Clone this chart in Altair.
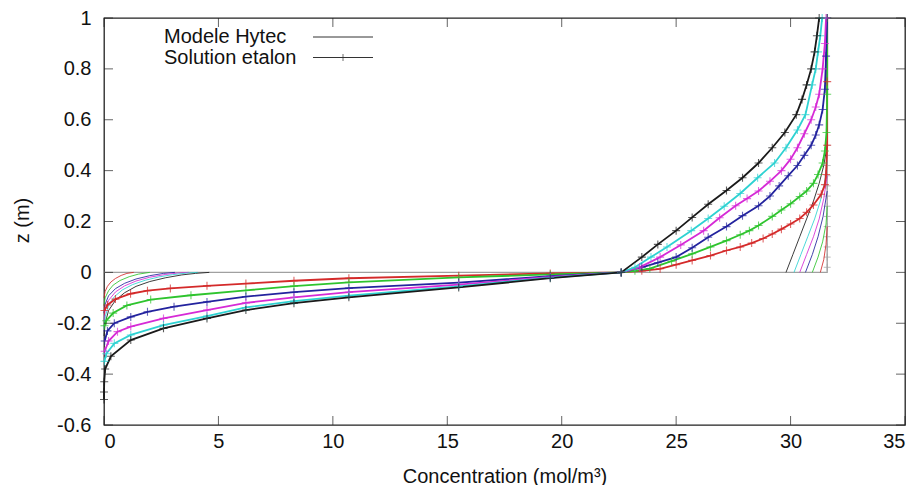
import altair as alt
import pandas as pd

# ---------------- data ----------------
x_ticks = [0, 5, 10, 15, 20, 25, 30, 35]
z_ticks = [-0.6, -0.4, -0.2, 0, 0.2, 0.4, 0.6, 0.8, 1]

names = ["red", "green", "blue", "magenta", "cyan", "black"]
colors = ["#d42a2a", "#2ec42e", "#23239e", "#d62ad6", "#2ed2d2", "#1a1a1a"]

# Solution etalon, z > 0 branch (concentration, depth)
red_up_c = [22.6, 23.5, 24.3, 25.0, 25.7, 26.5, 27.2, 27.8, 28.3, 28.8, 29.2, 29.6, 30.0, 30.4, 30.7, 31.0, 31.34, 31.5, 31.55, 31.6, 31.6, 31.6]
red_up_z = [0.0, 0.006, 0.014, 0.030, 0.047, 0.066, 0.086, 0.100, 0.115, 0.133, 0.151, 0.170, 0.190, 0.212, 0.236, 0.265, 0.307, 0.345, 0.385, 0.5, 0.75, 1.0]
green_up_c = [22.6, 23.2, 23.85, 24.8, 25.7, 26.5, 27.2, 27.8, 28.2, 28.6, 29.2, 29.6, 30.0, 30.4, 30.7, 31.0, 31.2, 31.4, 31.5, 31.57, 31.6, 31.6]
green_up_z = [0.0, 0.006, 0.015, 0.044, 0.073, 0.100, 0.125, 0.148, 0.164, 0.184, 0.220, 0.245, 0.270, 0.298, 0.320, 0.350, 0.385, 0.430, 0.477, 0.55, 0.7, 1.0]
blue_up_c = [22.6, 23.5, 24.2, 25.0, 25.7, 26.4, 27.2, 27.9, 28.6, 29.1, 29.5, 29.9, 30.3, 30.6, 30.9, 31.1, 31.25, 31.4, 31.5, 31.55, 31.6]
blue_up_z = [0.0, 0.02, 0.038, 0.060, 0.097, 0.138, 0.180, 0.223, 0.262, 0.300, 0.340, 0.380, 0.420, 0.460, 0.500, 0.540, 0.580, 0.640, 0.720, 0.850, 1.0]
magenta_up_c = [22.6, 23.4, 24.3, 25.2, 26.2, 26.9, 27.6, 28.1, 28.6, 29.1, 29.6, 30.0, 30.3, 30.6, 30.9, 31.1, 31.25, 31.4, 31.5, 31.55]
magenta_up_z = [0.0, 0.02, 0.06, 0.108, 0.164, 0.215, 0.262, 0.290, 0.320, 0.358, 0.400, 0.445, 0.490, 0.545, 0.600, 0.650, 0.700, 0.800, 0.900, 1.0]
cyan_up_c = [22.6, 23.2, 23.9, 24.6, 25.66, 26.4, 27.1, 27.8, 28.56, 29.3, 29.8, 30.3, 30.65, 30.94, 31.1, 31.2, 31.3, 31.38]
cyan_up_z = [0.0, 0.02, 0.06, 0.10, 0.164, 0.212, 0.260, 0.310, 0.372, 0.430, 0.490, 0.560, 0.620, 0.737, 0.800, 0.867, 0.930, 1.0]
black_up_c = [22.6, 23.5, 24.2, 25.0, 25.7, 26.4, 27.2, 27.9, 28.6, 29.2, 29.75, 30.25, 30.5, 30.7, 30.9, 31.05, 31.15, 31.25]
black_up_z = [0.0, 0.06, 0.11, 0.164, 0.216, 0.268, 0.322, 0.372, 0.430, 0.490, 0.550, 0.620, 0.680, 0.737, 0.800, 0.867, 0.930, 1.0]

# Solution etalon, z < 0 branch
red_lo_c = [22.6, 19.5, 15.5, 10.7, 8.3, 6.2, 4.5, 2.9, 1.9, 1.16, 0.5, 0.15, 0.02]
red_lo_z = [0.0, -0.004, -0.013, -0.023, -0.033, -0.044, -0.053, -0.063, -0.072, -0.084, -0.105, -0.128, -0.150]
green_lo_c = [22.6, 19.5, 15.5, 10.7, 8.3, 6.2, 3.8, 2.04, 1.0, 0.4, 0.1, 0.02]
green_lo_z = [0.0, -0.008, -0.020, -0.039, -0.054, -0.071, -0.090, -0.107, -0.130, -0.160, -0.190, -0.210]
blue_lo_c = [22.6, 19.5, 15.5, 10.7, 8.3, 6.2, 4.5, 3.06, 1.9, 1.17, 0.45, 0.15, 0.03]
blue_lo_z = [0.0, -0.015, -0.040, -0.062, -0.078, -0.095, -0.116, -0.135, -0.155, -0.175, -0.200, -0.230, -0.270]
magenta_lo_c = [22.6, 19.5, 15.5, 10.7, 8.3, 6.2, 4.5, 2.6, 1.17, 0.59, 0.2, 0.03]
magenta_lo_z = [0.0, -0.018, -0.048, -0.078, -0.098, -0.120, -0.148, -0.181, -0.213, -0.233, -0.270, -0.310]
cyan_lo_c = [22.6, 19.5, 15.5, 10.7, 8.3, 6.2, 4.5, 2.6, 1.17, 0.45, 0.1, 0.02]
cyan_lo_z = [0.0, -0.021, -0.055, -0.091, -0.113, -0.138, -0.172, -0.207, -0.246, -0.279, -0.320, -0.350]
black_lo_c = [22.6, 19.5, 15.5, 10.7, 8.3, 6.2, 4.5, 2.6, 1.17, 0.3, 0.05, 0.01, 0.0, 0.0]
black_lo_z = [0.0, -0.023, -0.059, -0.098, -0.121, -0.148, -0.181, -0.220, -0.266, -0.330, -0.380, -0.430, -0.470, -0.500]

# Modele Hytec, lower-left thin curves
h_red_lo_c = [0, 0.05, 0.15, 0.3, 0.5, 0.75, 1.0, 1.3]
h_red_lo_z = [-0.10, -0.075, -0.055, -0.038, -0.024, -0.012, -0.004, 0]
h_green_lo_c = [0, 0.05, 0.2, 0.4, 0.7, 1.1, 1.5, 2.0]
h_green_lo_z = [-0.13, -0.10, -0.072, -0.050, -0.032, -0.017, -0.007, 0]
h_blue_lo_c = [0, 0.05, 0.2, 0.5, 0.9, 1.4, 2.0, 2.6, 3.1]
h_blue_lo_z = [-0.16, -0.125, -0.092, -0.064, -0.043, -0.026, -0.013, -0.004, 0]
h_magenta_lo_c = [0, 0.05, 0.2, 0.5, 0.9, 1.4, 2.0, 2.7, 3.2, 3.7]
h_magenta_lo_z = [-0.19, -0.15, -0.11, -0.077, -0.053, -0.034, -0.019, -0.008, -0.003, 0]
h_cyan_lo_c = [0, 0.05, 0.2, 0.45, 0.8, 1.25, 1.8, 2.4, 3.0, 3.6, 4.1]
h_cyan_lo_z = [-0.22, -0.175, -0.13, -0.096, -0.069, -0.048, -0.031, -0.018, -0.009, -0.003, 0]
h_black_lo_c = [0, 0.05, 0.2, 0.5, 0.9, 1.4, 2.0, 2.7, 3.4, 4.0, 4.6]
h_black_lo_z = [-0.25, -0.2, -0.15, -0.11, -0.08, -0.055, -0.036, -0.021, -0.010, -0.004, 0]

# Modele Hytec, right thin curves
h_red_up_c = [31.3, 31.45, 31.55, 31.6]
h_red_up_z = [0, 0.05, 0.11, 0.18]
h_green_up_c = [30.95, 31.2, 31.4, 31.55, 31.6]
h_green_up_z = [0, 0.06, 0.12, 0.19, 0.26]
h_blue_up_c = [30.65, 30.95, 31.2, 31.42, 31.6]
h_blue_up_z = [0, 0.07, 0.14, 0.22, 0.32]
h_magenta_up_c = [30.4, 30.7, 31.0, 31.25, 31.45, 31.6]
h_magenta_up_z = [0, 0.07, 0.14, 0.21, 0.29, 0.38]
h_cyan_up_c = [30.15, 30.45, 30.75, 31.05, 31.3, 31.5, 31.6]
h_cyan_up_z = [0, 0.07, 0.14, 0.21, 0.28, 0.36, 0.44]
h_black_up_c = [29.8, 30.1, 30.4, 30.7, 31.0, 31.25, 31.45, 31.6]
h_black_up_z = [0, 0.07, 0.14, 0.21, 0.28, 0.35, 0.42, 0.5]

# initial profile (grey)
init_c = [0, 31.6, 31.6]
init_z = [0, 0, 1]
init_mark_c = [31.6] * 13
init_mark_z = [0.02, 0.06, 0.10, 0.14, 0.18, 0.22, 0.26, 0.30, 0.34, 0.38, 0.42, 0.46, 0.50]

legend_labels = ["Modele Hytec", "Solution etalon"]

# ---------------- tables ----------------
g = globals()
et_rows, hy_rows = [], []
for n, col in zip(names, colors):
    lo_c, lo_z = g[n + "_lo_c"], g[n + "_lo_z"]
    up_c, up_z = g[n + "_up_c"], g[n + "_up_z"]
    cs = list(reversed(lo_c)) + up_c[1:]
    zs = list(reversed(lo_z)) + up_z[1:]
    for i, (c, z) in enumerate(zip(cs, zs)):
        et_rows.append({"C": c, "z": z, "name": "e_" + n, "col": col, "seq": i})
    for part in ("lo", "up"):
        for i, (c, z) in enumerate(zip(g["h_" + n + "_" + part + "_c"], g["h_" + n + "_" + part + "_z"])):
            hy_rows.append({"C": c, "z": z, "name": "h_" + n + part, "col": col, "seq": i})
et = pd.DataFrame(et_rows)
hy = pd.DataFrame(hy_rows)
init = pd.DataFrame({"C": init_c, "z": init_z, "seq": list(range(len(init_c)))})
init_m = pd.DataFrame({"C": init_mark_c, "z": init_mark_z})
xt = pd.DataFrame({"C": x_ticks})
zt = pd.DataFrame({"z": z_ticks})

FONT = "Liberation Sans"
FS = 20
cross = "M-1,0L1,0M0,-1L0,1"

xs = alt.Scale(domain=[0, 35], nice=False, zero=False)
ys = alt.Scale(domain=[-0.6, 1], nice=False, zero=False)
xax = alt.Axis(values=x_ticks, title="Concentration (mol/m³)", domain=False, ticks=False, grid=False,
               labelPadding=6, labelFontSize=FS, titleFontSize=FS, titleFontWeight="normal",
               labelColor="#111", titleColor="#111", titleY=57, titleBaseline="alphabetic")
yax = alt.Axis(values=z_ticks, title="z (m)", domain=False, ticks=False, grid=False,
               labelPadding=13, labelFontSize=FS, titleFontSize=FS, titleFontWeight="normal",
               labelColor="#111", titleColor="#111",
               labelExpr="replace(format(datum.value, '~g'), '−', '-')",
               titleX=-82, titleY=202, titleAngle=-90, titleBaseline="middle", titleAlign="center")

X = alt.X("C:Q", scale=xs, axis=xax)
Y = alt.Y("z:Q", scale=ys, axis=yax)

init_line = alt.Chart(init).mark_line(color="#a0a0a0", strokeWidth=1.3).encode(x=X, y=Y, order="seq:Q")
init_pts = alt.Chart(init_m).mark_point(shape=cross, size=49, color="#a0a0a0", strokeWidth=1, filled=False).encode(
    x="C:Q", y="z:Q")

hy_lines = alt.Chart(hy).mark_line(strokeWidth=1, opacity=0.85).encode(
    x="C:Q", y="z:Q", detail="name:N", color=alt.Color("col:N", scale=None), order="seq:Q")

et_lines = alt.Chart(et).mark_line(strokeWidth=1.8).encode(
    x="C:Q", y="z:Q", detail="name:N", color=alt.Color("col:N", scale=None), order="seq:Q")
et_pts = alt.Chart(et).mark_point(shape=cross, size=64, strokeWidth=1.1, filled=False).encode(
    x="C:Q", y="z:Q", color=alt.Color("col:N", scale=None))

TL = 9
tk_b = alt.Chart(xt).mark_tick(orient="vertical", size=TL, thickness=1, color="#222", yOffset=-TL / 2).encode(
    x="C:Q", y=alt.datum(-0.6))
tk_t = alt.Chart(xt).mark_tick(orient="vertical", size=TL, thickness=1, color="#222", yOffset=TL / 2).encode(
    x="C:Q", y=alt.datum(1))
tk_l = alt.Chart(zt).mark_tick(orient="horizontal", size=TL, thickness=1, color="#222", xOffset=TL / 2).encode(
    y="z:Q", x=alt.datum(0))
tk_r = alt.Chart(zt).mark_tick(orient="horizontal", size=TL, thickness=1, color="#222", xOffset=-TL / 2).encode(
    y="z:Q", x=alt.datum(35))

# legend (manual, gnuplot style)
leg1 = pd.DataFrame({"label": [legend_labels[0]]})
leg2 = pd.DataFrame({"label": [legend_labels[1]]})
leg_t1 = alt.Chart(leg1).mark_text(align="left", baseline="middle", fontSize=FS, color="#111").encode(
    text="label:N", x=alt.value(60), y=alt.value(19))
leg_t2 = alt.Chart(leg2).mark_text(align="left", baseline="middle", fontSize=FS, color="#111").encode(
    text="label:N", x=alt.value(60), y=alt.value(39.5))
leg_l1 = alt.Chart(leg1).mark_rule(color="#333", strokeWidth=1).encode(
    x=alt.value(209), x2=alt.value(269), y=alt.value(19))
leg_l2 = alt.Chart(leg2).mark_rule(color="#333", strokeWidth=1).encode(
    x=alt.value(209), x2=alt.value(269), y=alt.value(39.5))
leg_pt = alt.Chart(leg2).mark_point(shape=cross, size=49, color="#333", strokeWidth=1, filled=False).encode(
    x=alt.value(239), y=alt.value(39.5))

chart = alt.layer(
    init_line, init_pts, hy_lines, et_lines, et_pts, tk_b, tk_t, tk_l, tk_r,
    leg_t1, leg_t2, leg_l1, leg_l2, leg_pt
).properties(
    width=801, height=407,
    autosize=alt.AutoSizeParams(type="none"),
    padding={"left": 96, "top": 10, "right": 10, "bottom": 60},
).configure(font=FONT).configure_view(stroke="#222", strokeWidth=1.3)

chart.save("out.html", embed_options={"renderer": "svg", "actions": False})
